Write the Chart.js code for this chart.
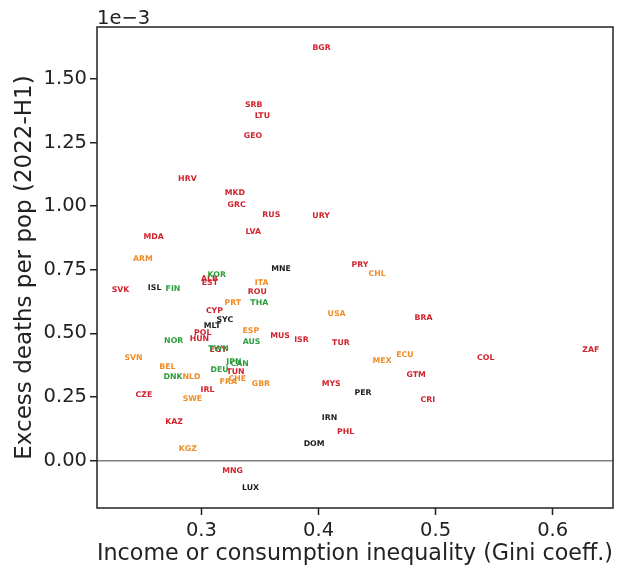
<!DOCTYPE html>
<html><head><meta charset="utf-8">
<script src="https://cdn.jsdelivr.net/npm/chart.js@4.4.0/dist/chart.umd.min.js"></script>
<style>html,body{margin:0;padding:0;background:#fff;}</style>
</head><body>
<canvas id="c" width="631" height="573" style="display:block;width:631px;height:573px"></canvas>
<script>
// Country codes (ISO3)
const countries = ['BGR','SRB','LTU','GEO','HRV','MKD','GRC','RUS','URY','MDA','LVA','ARM','MNE','PRY','KOR','ALB','EST','SVK','ISL','FIN','ITA','ROU','PRT','THA','CYP','SYC','MLT','POL','HUN','ESP','AUS','MUS','ISR','NOR','USA','TUR','TWN','EGY','SVN','BEL','JPN','CAN','DEU','TUN','DNK','NLD','CHE','FRA','GBR','MYS','IRL','CZE','SWE','KAZ','KGZ','MNG','LUX','IRN','PHL','DOM','CHL','BRA','ECU','MEX','COL','ZAF','GTM','PER','CRI'];
// Income or consumption inequality (Gini coefficient)
const gini = [0.4026,0.3446,0.3520,0.3440,0.2880,0.3285,0.3300,0.3597,0.4022,0.2591,0.3443,0.2500,0.3680,0.4354,0.3131,0.3069,0.3072,0.2309,0.2600,0.2757,0.3514,0.3477,0.3268,0.3494,0.3111,0.3200,0.3092,0.3011,0.2983,0.3422,0.3428,0.3671,0.3854,0.2763,0.4154,0.4191,0.3146,0.3143,0.2420,0.2709,0.3277,0.3326,0.3154,0.3291,0.2757,0.2914,0.3306,0.3229,0.3508,0.4108,0.3051,0.2509,0.2923,0.2766,0.2883,0.3266,0.3420,0.4094,0.4231,0.3962,0.4500,0.4896,0.4737,0.4542,0.5428,0.6325,0.4834,0.4380,0.4934];
// Excess deaths per population, 2022-H1
const excessDeaths = [1.623e-3,1.398e-3,1.356e-3,1.278e-3,1.106e-3,1.054e-3,1.005e-3,0.966e-3,0.962e-3,0.879e-3,0.898e-3,0.794e-3,0.752e-3,0.770e-3,0.729e-3,0.713e-3,0.700e-3,0.670e-3,0.679e-3,0.676e-3,0.698e-3,0.662e-3,0.618e-3,0.618e-3,0.589e-3,0.552e-3,0.529e-3,0.503e-3,0.478e-3,0.509e-3,0.466e-3,0.491e-3,0.474e-3,0.471e-3,0.577e-3,0.462e-3,0.437e-3,0.434e-3,0.405e-3,0.369e-3,0.387e-3,0.380e-3,0.356e-3,0.350e-3,0.330e-3,0.330e-3,0.320e-3,0.307e-3,0.302e-3,0.302e-3,0.278e-3,0.259e-3,0.242e-3,0.150e-3,0.047e-3,-0.042e-3,-0.108e-3,0.167e-3,0.112e-3,0.065e-3,0.732e-3,0.561e-3,0.416e-3,0.392e-3,0.402e-3,0.436e-3,0.337e-3,0.264e-3,0.239e-3];
// Colour group of each label
const colorGroup = ['red','red','red','red','red','red','red','red','red','red','red','orange','black','red','green','red','red','red','black','green','orange','red','orange','green','red','black','black','red','red','orange','green','red','red','green','orange','red','green','red','orange','orange','green','green','green','red','green','orange','orange','orange','orange','red','red','red','orange','red','orange','red','black','black','red','black','orange','red','orange','orange','red','red','red','black','red'];
const groupNames = ['red','orange','green','black'];
const groupColors = {red:'#d0222c', orange:'#ef8c26', green:'#2b9e3c', black:'#1a1a1a'};
const xTicks = [0.3, 0.4, 0.5, 0.6];
const yTicks = [0, 0.00025, 0.0005, 0.00075, 0.001, 0.00125, 0.0015];
const xTitle = 'Income or consumption inequality (Gini coeff.)';
const yTitle = 'Excess deaths per pop (2022-H1)';
const yOffsetText = '1e\u22123';

const datasets = groupNames.map(g => ({
  label: g,
  textColor: groupColors[g],
  data: countries.map((c, i) => ({x: gini[i], y: excessDeaths[i], code: c, g: colorGroup[i]})).filter(p => p.g === g),
  pointRadius: 0,
  pointHoverRadius: 0,
  showLine: false
}));

const FONT = '"DejaVu Sans", sans-serif';

const labelPlugin = {
  id: 'labels',
  afterDatasetsDraw(chart) {
    const ctx = chart.ctx;
    ctx.save();
    ctx.font = 'bold 7.8px ' + FONT;
    ctx.textAlign = 'center';
    ctx.textBaseline = 'middle';
    chart.data.datasets.forEach((ds, i) => {
      const meta = chart.getDatasetMeta(i);
      ctx.fillStyle = ds.textColor;
      meta.data.forEach((pt, j) => ctx.fillText(ds.data[j].code, pt.x, pt.y));
    });
    ctx.restore();
  },
  afterDraw(chart) {
    const ctx = chart.ctx, a = chart.chartArea;
    ctx.save();
    ctx.strokeStyle = '#222';
    ctx.lineWidth = 1.5;
    ctx.strokeRect(a.left, a.top, a.right - a.left, a.bottom - a.top);
    ctx.fillStyle = '#222';
    ctx.font = '19.5px ' + FONT;
    ctx.textAlign = 'left';
    ctx.textBaseline = 'alphabetic';
    ctx.fillText(yOffsetText, a.left, a.top - 3);
    ctx.restore();
  }
};

new Chart(document.getElementById('c'), {
  type: 'scatter',
  data: {datasets},
  options: {
    responsive: false,
    devicePixelRatio: 1,
    animation: false,
    layout: {padding: {left: 0, right: 18, top: 27, bottom: 0}},
    plugins: {legend: {display: false}, tooltip: {enabled: false}},
    scales: {
      x: {
        type: 'linear', min: 0.2108, max: 0.6515,
        afterBuildTicks: s => { s.ticks = xTicks.map(v => ({value: v})); },
        afterFit: s => { s.height = 65; },
        grid: {drawOnChartArea: false, drawTicks: true, tickLength: 7, tickColor: '#222', tickWidth: 1.5},
        border: {display: false},
        ticks: {color: '#222', font: {family: FONT, size: 19.5}, padding: 4, maxRotation: 0, callback: v => v.toFixed(1)},
        title: {display: true, text: xTitle, color: '#222', font: {family: FONT, size: 23, lineHeight: 1.2}, padding: {top: 0, bottom: 5}}
      },
      y: {
        type: 'linear', min: -0.000187, max: 0.001705,
        afterBuildTicks: s => { s.ticks = yTicks.map(v => ({value: v})); },
        afterFit: s => { s.width = 97; },
        grid: {
          drawOnChartArea: true, drawTicks: true, tickLength: 7, tickColor: '#222', tickWidth: 1.5,
          color: c => (c.tick && c.tick.value === 0) ? '#808080' : 'rgba(0,0,0,0)',
          lineWidth: 1.5
        },
        border: {display: false},
        ticks: {color: '#222', font: {family: FONT, size: 19.5}, padding: 3, callback: v => (v * 1000).toFixed(2)},
        title: {display: true, text: yTitle, color: '#222', font: {family: FONT, size: 23, lineHeight: 1.2}, padding: {top: 11, bottom: 0}}
      }
    }
  },
  plugins: [labelPlugin]
});
</script>
</body></html>
